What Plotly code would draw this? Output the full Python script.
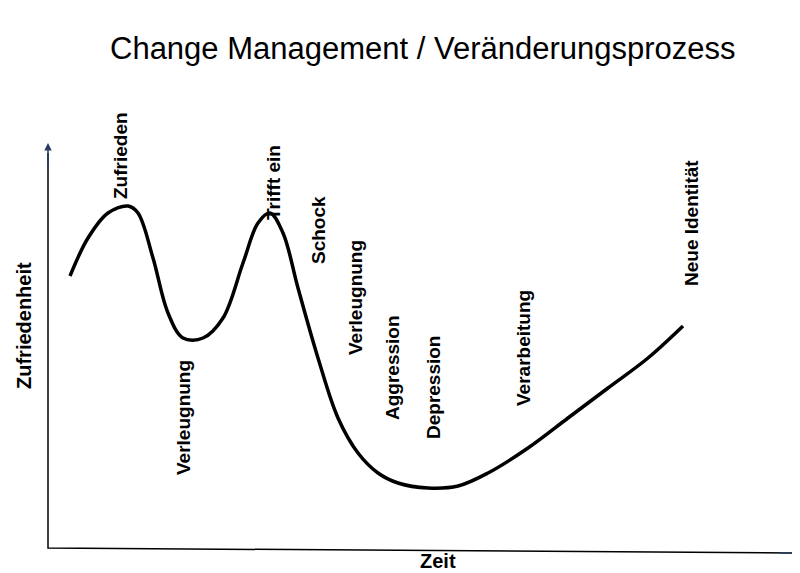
import plotly.graph_objects as go

# curve (time vs. satisfaction), image-like coordinates
curve_x = [62,80,100,120,130,145,160,175,195,215,235,250,262,275,290,310,330,350,370,390,420,450,480,520,560,600,640,675]
curve_y = [268,230,205,198,205,250,305,330,330,310,255,215,205,225,280,350,410,445,465,475,480,478,465,440,410,380,350,318]

phase_labels = ["Zufrieden","Verleugnung","Trifft ein","Schock","Verleugnung","Aggression","Depression","Verarbeitung","Neue Identität"]
phase_x = [112,175,265,310,347,384,425,515,683]
phase_y = [148,410,175,222,290,360,380,340,215]

fig = go.Figure()
fig.add_trace(go.Scatter(x=curve_x, y=curve_y, mode="lines", line=dict(color="black", width=3.5, shape="spline", smoothing=1.0), hoverinfo="skip"))
fig.add_trace(go.Scatter(x=[40,40,790], y=[145,540,545], mode="lines", line=dict(color="black", width=1.5), hoverinfo="skip"))

ann = []
ann.append(dict(x=40, y=135, ax=40, ay=160, xref="x", yref="y", axref="x", ayref="y", showarrow=True, arrowhead=2, arrowwidth=1.5, text=""))
ann.append(dict(x=792, y=545, ax=770, ay=545, xref="x", yref="y", axref="x", ayref="y", showarrow=True, arrowhead=2, arrowwidth=1.5, text=""))
for t, x, y in zip(phase_labels, phase_x, phase_y):
    ann.append(dict(x=x, y=y, text="<b>%s</b>" % t, textangle=-90, showarrow=False, font=dict(size=19, color="black")))
ann.append(dict(x=16, y=318, text="<b>Zufriedenheit</b>", textangle=-90, showarrow=False, font=dict(size=20, color="black")))
ann.append(dict(x=430, y=553, text="<b>Zeit</b>", showarrow=False, font=dict(size=20, color="black")))
ann.append(dict(x=415, y=40, text="Change Management / Veränderungsprozess", showarrow=False, font=dict(size=31, color="black")))

fig.update_layout(
    width=800, height=573, margin=dict(l=0, r=0, t=0, b=0),
    paper_bgcolor="white", plot_bgcolor="white", showlegend=False,
    font=dict(family="Liberation Sans, Arial, sans-serif"),
    xaxis=dict(range=[0, 800], visible=False),
    yaxis=dict(range=[573, 0], visible=False),
    annotations=ann,
)
fig.write_html("out.html")
